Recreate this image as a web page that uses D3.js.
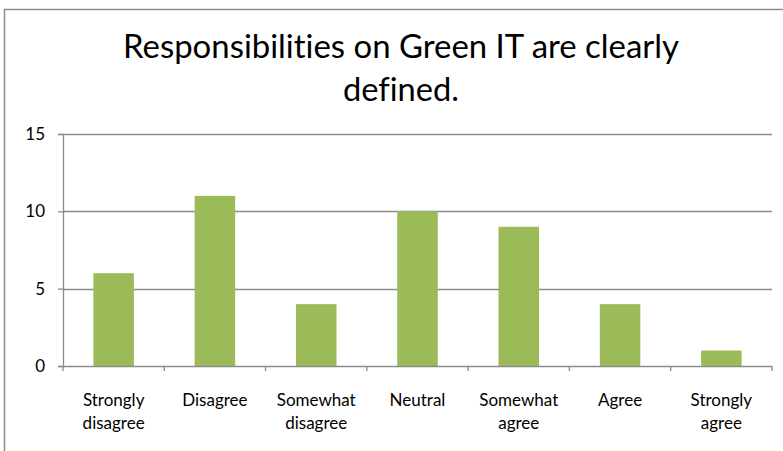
<!DOCTYPE html>
<html><head><meta charset="utf-8">
<script src="https://cdn.jsdelivr.net/npm/d3@7"></script>
<style>body{margin:0;background:#fff}svg{display:block}text{font-variant-ligatures:none}</style>
</head><body>
<script>
const categories = [["Strongly","disagree"],["Disagree"],["Somewhat","disagree"],["Neutral"],["Somewhat","agree"],["Agree"],["Strongly","agree"]];
const values = [6, 11, 4, 10, 9, 4, 1];
const yTicks = [0, 5, 10, 15];
const titleLines = ["Responsibilities on Green IT are clearly", "defined."];

const W = 783, H = 451;
const svg = d3.select("body").append("svg").attr("width", W).attr("height", H);
const font = "Lato, 'Open Sans', sans-serif";

svg.append("rect").attr("x", 4.5).attr("y", 9.5).attr("width", 900).attr("height", 600)
  .attr("fill", "none").attr("stroke", "#8c8c8c").attr("stroke-width", 1.5);

const x = d3.scaleBand().domain(categories.map((d,i)=>i)).range([63, 772]).paddingInner(0).paddingOuter(0);
const y = d3.scaleLinear().domain([0, 15]).range([366, 134]);

// gridlines
svg.append("g").selectAll("line").data(yTicks.filter(t=>t>0)).join("line")
  .attr("x1", 63).attr("x2", 772).attr("y1", d=>Math.round(y(d))+0.5).attr("y2", d=>Math.round(y(d))+0.5)
  .attr("stroke", "#8c8c8c").attr("stroke-width", 1.3);

// bars
const bw = x.bandwidth() / 2.5;
svg.append("g").selectAll("rect").data(values).join("rect")
  .attr("x", (d,i)=>x(i) + (x.bandwidth()-bw)/2)
  .attr("width", bw)
  .attr("y", d=>y(d))
  .attr("height", d=>y(0)-y(d))
  .attr("fill", "#9bbb59");

// y axis
const yAxis = svg.append("g").attr("transform", "translate(63,0)")
  .call(d3.axisLeft(y).tickValues(yTicks).tickSize(5).tickPadding(13));
yAxis.select(".domain").attr("stroke", "#8c8c8c").attr("stroke-width", 1.3);
yAxis.selectAll(".tick line").attr("stroke", "#8c8c8c").attr("stroke-width", 1.3);
yAxis.selectAll("text").attr("font-family", font).attr("font-size", 17).attr("fill", "#000");

// x axis
const bounds = d3.range(categories.length + 1).map(i => 63 + i * x.step());
svg.append("line").attr("x1", 63).attr("x2", 772).attr("y1", 366.5).attr("y2", 366.5)
  .attr("stroke", "#8c8c8c").attr("stroke-width", 1.3);
svg.append("g").selectAll("line").data(bounds).join("line")
  .attr("x1", d=>d).attr("x2", d=>d).attr("y1", 366).attr("y2", 371)
  .attr("stroke", "#8c8c8c").attr("stroke-width", 1.3);

const lab = svg.append("g").selectAll("text").data(categories).join("text")
  .attr("font-family", font).attr("font-size", 17).attr("fill", "#000").attr("text-anchor", "middle");
lab.each(function(d, i){
  const t = d3.select(this);
  d.forEach((s, k) => t.append("tspan").attr("x", x(i) + x.bandwidth()/2).attr("y", 406 + k*22.5).text(s));
});

// title
svg.append("g").selectAll("text").data(titleLines).join("text")
  .attr("x", 401).attr("y", (d,i)=>57.5 + i*43)
  .attr("text-anchor", "middle").attr("font-family", font).attr("font-size", 33).attr("fill", "#000")
  .attr("textLength", (d,i)=> i===0 ? 556 : 116)
  .attr("lengthAdjust", "spacingAndGlyphs")
  .text(d=>d);
</script>
</body></html>
